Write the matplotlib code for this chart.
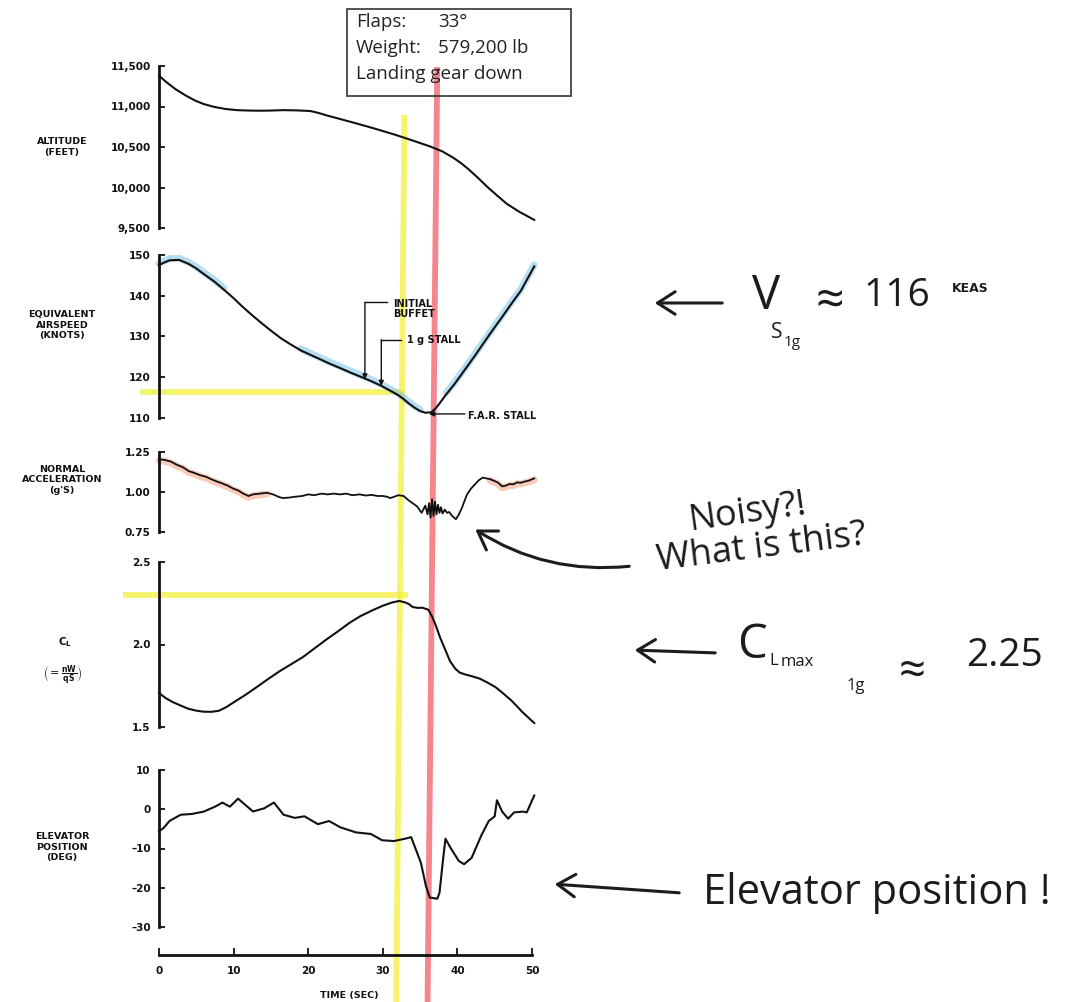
import matplotlib
matplotlib.use("Agg")
import matplotlib.pyplot as plt
from matplotlib.transforms import blended_transform_factory
from matplotlib.patches import FancyArrowPatch, Rectangle

plt.rcParams['font.family'] = ['DejaVu Sans']
plt.rcParams['mathtext.fontset'] = 'dejavusans'

# ---------------- data ----------------
alt_t = [0, 1, 2.2, 3.5, 4.8, 6, 7.4, 9, 10.5, 12, 13.6, 15, 16.7, 18.5, 20.3, 21.4,
         22.4, 24.5, 26.5, 29, 31.7, 34, 36.3, 38, 39.4, 40.5, 41.5, 42.8, 44.1, 45.4,
         46.6, 48.3, 50.3]
alt_v = [11380, 11300, 11215, 11140, 11075, 11030, 10995, 10968, 10955, 10950, 10948,
         10950, 10955, 10952, 10944, 10920, 10892, 10840, 10790, 10725, 10650, 10580,
         10508, 10445, 10370, 10300, 10225, 10115, 10000, 9895, 9800, 9700, 9600]

as_t = [0, 0.5, 1.4, 2.7, 4.0, 5.0, 6.1, 7.4, 8.7, 10, 11.2, 12.5, 13.8, 15.1, 16.4,
        17.7, 19.0, 20.3, 21.5, 22.8, 24.1, 25.6, 27.2, 28.5, 29.8, 30.9, 31.9, 32.7,
        33.4, 34.2, 35.0, 35.7, 36.5, 37.0, 37.5, 38.5, 39.6, 40.9, 42.2, 43.4, 44.7,
        46.0, 47.3, 48.5, 50.3]
as_v = [147.5, 148.0, 148.7, 148.8, 147.8, 146.7, 145.2, 143.5, 141.5, 139.4, 137.3,
        135.2, 133.2, 131.3, 129.5, 128.0, 126.6, 125.5, 124.5, 123.4, 122.4, 121.2,
        120.0, 119.0, 117.9, 116.8, 115.8, 114.8, 113.7, 112.6, 111.7, 111.3, 111.4,
        112.2, 113.3, 115.8, 118.3, 121.6, 124.9, 128.1, 131.5, 134.8, 138.2, 141.2,
        147.2]

acc_t = [0, 0.8, 1.6, 2.4, 3.2, 4.0, 4.7, 5.5, 6.3, 7.0, 7.8, 8.4, 9.2, 10.0, 10.6,
         11.3, 12.0, 12.6, 13.5, 14.5, 15.3, 16.0, 16.6, 17.4, 18.2, 19.2, 20.0, 20.8,
         21.8, 22.6, 23.4, 24.3, 25.1, 25.9, 26.9, 27.7, 28.5, 29.3, 30.0, 30.6, 31.0,
         31.5, 32.1, 32.8, 33.4, 34.0, 34.6, 35.2, 35.7, 36.0, 36.2, 36.4, 36.6, 36.8,
         37.0, 37.2, 37.4, 37.6, 37.8, 38.0, 38.3, 38.6, 38.9, 39.3, 39.8, 40.2, 40.6,
         41.0, 41.3, 41.8, 42.4, 42.9, 43.4, 43.9, 44.4, 44.9, 45.4, 46.0, 46.5, 47.0,
         47.5, 48.0, 48.5, 49.0, 49.5, 50.3]
acc_v = [1.205, 1.20, 1.19, 1.17, 1.155, 1.13, 1.12, 1.105, 1.095, 1.08, 1.065, 1.055,
         1.04, 1.02, 1.01, 0.99, 0.975, 0.985, 0.99, 0.995, 0.985, 0.97, 0.962, 0.965,
         0.97, 0.975, 0.985, 0.98, 0.99, 0.985, 0.99, 0.985, 0.99, 0.98, 0.985, 0.978,
         0.982, 0.975, 0.975, 0.97, 0.962, 0.97, 0.98, 0.975, 0.95, 0.93, 0.91, 0.87,
         0.915, 0.86, 0.93, 0.84, 0.955, 0.85, 0.94, 0.86, 0.92, 0.87, 0.905, 0.865,
         0.89, 0.87, 0.875, 0.85, 0.83, 0.86, 0.90, 0.95, 0.985, 1.02, 1.05, 1.075,
         1.09, 1.085, 1.08, 1.07, 1.06, 1.035, 1.04, 1.05, 1.048, 1.06, 1.058, 1.065,
         1.07, 1.085]

cl_t = [0, 0.9, 1.8, 2.9, 3.9, 4.9, 5.9, 7.0, 8.0, 9.0, 10.1, 11.6, 13.1, 14.6, 16.2,
        17.7, 19.3, 20.8, 22.4, 24.0, 25.5, 27.0, 28.6, 30.0, 31.2, 32.2, 33.0, 33.5,
        34.0, 34.7, 35.3, 36.1, 36.6, 37.1, 37.7, 38.4, 39.0, 39.7, 40.3, 41.0, 42.0,
        43.0, 44.0, 45.1, 46.1, 47.2, 48.0, 48.7, 50.3]
cl_v = [1.706, 1.675, 1.652, 1.630, 1.611, 1.600, 1.593, 1.592, 1.598, 1.620, 1.652,
        1.695, 1.742, 1.790, 1.839, 1.880, 1.924, 1.975, 2.029, 2.080, 2.130, 2.172,
        2.207, 2.235, 2.254, 2.264, 2.255, 2.245, 2.227, 2.222, 2.223, 2.211, 2.170,
        2.116, 2.040, 1.965, 1.900, 1.854, 1.830, 1.819, 1.807, 1.793, 1.770, 1.742,
        1.705, 1.662, 1.625, 1.591, 1.524]

el_t = [0, 0.6, 1.4, 2.9, 4.4, 6.0, 7.5, 8.5, 9.5, 10.6, 11.6, 12.6, 14.1, 15.4, 16.7,
        18.2, 19.5, 21.3, 22.8, 24.3, 26.4, 28.4, 29.9, 31.5, 33.0, 33.8, 35.1, 35.8,
        36.3, 37.3, 37.6, 38.1, 38.4, 39.1, 40.2, 40.9, 41.9, 43.2, 44.2, 45.0, 45.3,
        46.0, 46.8, 47.6, 48.8, 49.3, 50.3]
el_v = [-5.6, -4.8, -3.0, -1.4, -1.2, -0.6, 0.65, 1.7, 0.65, 2.7, 1.06, -0.57, 0.24,
        1.7, -1.4, -2.2, -1.8, -3.8, -3.0, -4.6, -5.9, -6.3, -7.9, -8.1, -7.5, -7.1,
        -13.6, -19.7, -22.5, -22.8, -21.3, -12.4, -7.5, -9.9, -13.2, -14.0, -12.4, -6.7,
        -3.0, -1.8, 2.3, -0.6, -2.4, -0.8, -0.6, -0.8, 3.5]

alt_ticks = [9500, 10000, 10500, 11000, 11500]
alt_labels = ['9,500', '10,000', '10,500', '11,000', '11,500']
as_ticks = [110, 120, 130, 140, 150]
acc_ticks = [0.75, 1.00, 1.25]
acc_labels = ['0.75', '1.00', '1.25']
cl_ticks = [1.5, 2.0, 2.5]
cl_labels = ['1.5', '2.0', '2.5']
el_ticks = [-30, -20, -10, 0, 10]
el_labels = ['\u201330', '\u201320', '\u201310', '0', '10']
time_ticks = [0, 10, 20, 30, 40, 50]

v_s1g = 116.3          # yellow reference line, airspeed
cl_max_line = 2.30     # yellow reference line, CL
initial_buffet_t, initial_buffet_v = 27.6, 119.5
one_g_stall_t, one_g_stall_v = 29.8, 117.9
far_stall_t, far_stall_v = 36.2, 111.0

# ---------------- layout ----------------
W, H = 1071, 1002
fig = plt.figure(figsize=(W / 100, H / 100), dpi=100)

X0, PXS = 159, 7.46   # pixel of t=0, pixels per second
TMAX = 51.0

def rect(top, bottom):
    l = X0
    r = X0 + TMAX * PXS
    return [l / W, 1 - bottom / H, (r - l) / W, (bottom - top) / H]

ax_under = fig.add_axes([0, 0, 1, 1], zorder=0)
ax_under.set_xlim(0, 1); ax_under.set_ylim(0, 1); ax_under.axis('off')

INK = '#111111'
LAB = dict(fontsize=6.8, fontweight='bold', color=INK, ha='center', va='center',
           linespacing=1.25)
TICKFONT = 7.5

def style(ax, ymin, ymax, ticks, labels):
    ax.set_xlim(0, TMAX)
    ax.set_ylim(ymin, ymax)
    ax.patch.set_visible(False)
    for s in ['top', 'right', 'bottom']:
        ax.spines[s].set_visible(False)
    ax.spines['left'].set_linewidth(2.0)
    ax.spines['left'].set_color(INK)
    ax.set_yticks(ticks)
    ax.set_yticklabels(labels, fontsize=TICKFONT, fontweight='bold', color=INK)
    ax.tick_params(axis='y', direction='in', length=4, width=1.3, pad=6, color=INK)
    ax.tick_params(axis='x', bottom=False, labelbottom=False)

ax_alt = fig.add_axes(rect(66, 228), zorder=1)
style(ax_alt, 9500, 11500, alt_ticks, alt_labels)
ax_as = fig.add_axes(rect(255, 418), zorder=1)
style(ax_as, 110, 150, as_ticks, [str(v) for v in as_ticks])
ax_acc = fig.add_axes(rect(452, 532), zorder=1)
style(ax_acc, 0.75, 1.25, acc_ticks, acc_labels)
ax_cl = fig.add_axes(rect(562, 727), zorder=1)
style(ax_cl, 1.5, 2.5, cl_ticks, cl_labels)
ax_el = fig.add_axes(rect(770, 927), zorder=1)
style(ax_el, -30, 10, el_ticks, el_labels)

ax_el.spines['bottom'].set_visible(True)
ax_el.spines['bottom'].set_position(('outward', 20))
ax_el.spines['bottom'].set_bounds(0, 50)
ax_el.spines['bottom'].set_linewidth(2.0)
ax_el.spines['bottom'].set_color(INK)
ax_el.set_xticks(time_ticks)
ax_el.set_xticklabels([str(t) for t in time_ticks], fontsize=TICKFONT, fontweight='bold', color=INK)
ax_el.tick_params(axis='x', bottom=True, labelbottom=True, direction='in', length=5,
                  width=1.3, pad=8, color=INK)
ax_el.set_xlabel('TIME (SEC)', fontsize=6.8, fontweight='bold', color=INK, labelpad=11)

# ---------------- highlighter marks on the curves ----------------
BLUE = '#6fbfe8'
ORANGE = '#f5a98a'
def seg(t, v, a, b):
    pts = [(x, y) for x, y in zip(t, v) if a <= x <= b]
    return [p[0] for p in pts], [p[1] for p in pts]

for a, b in [(0, 9), (19, 35.2), (38.4, 50.3)]:
    xs, ys = seg(as_t, as_v, a, b)
    ax_as.plot(xs, [y + 0.4 for y in ys], color=BLUE, lw=5, alpha=0.5,
               solid_capstyle='round', clip_on=False, zorder=1)
for a, b in [(0, 14.5), (44.4, 50.3)]:
    xs, ys = seg(acc_t, acc_v, a, b)
    ax_acc.plot(xs, [y - 0.008 for y in ys], color=ORANGE, lw=5, alpha=0.6,
                solid_capstyle='round', clip_on=False, zorder=1)

# ---------------- curves ----------------
LW = 1.5
ax_alt.plot(alt_t, alt_v, color=INK, lw=LW, clip_on=False, zorder=3)
ax_as.plot(as_t, as_v, color=INK, lw=LW, clip_on=False, zorder=3)
ax_acc.plot(acc_t, acc_v, color=INK, lw=1.3, clip_on=False, zorder=3)
ax_cl.plot(cl_t, cl_v, color=INK, lw=LW, clip_on=False, zorder=3)
ax_el.plot(el_t, el_v, color=INK, lw=LW, clip_on=False, zorder=3)

# ---------------- yellow / red highlighter lines ----------------
YEL = '#f4f03c'
RED = '#f04454'
blend = blended_transform_factory(ax_el.transData, fig.transFigure)
ax_under.plot([32.9, 31.8], [1 - 115 / H, 0.0], color=YEL, lw=4.2, alpha=0.75,
              transform=blend, solid_capstyle='butt')
ax_under.plot([37.3, 36.0], [1 - 67 / H, 0.0], color=RED, lw=4.2, alpha=0.65,
              transform=blend, solid_capstyle='butt')
ax_as.plot([-2.2, 32.5], [v_s1g, v_s1g], color=YEL, lw=4.2, alpha=0.75,
           clip_on=False, zorder=0)
ax_cl.plot([-4.4, 33.0], [cl_max_line, cl_max_line], color=YEL, lw=4.2, alpha=0.75,
           clip_on=False, zorder=0)

# ---------------- airspeed annotations ----------------
AF = dict(fontsize=7, fontweight='bold', color=INK)
arr = dict(arrowstyle='-|>', lw=1.0, color=INK, mutation_scale=7, shrinkA=0, shrinkB=0)
ax_as.annotate('', xy=(initial_buffet_t, initial_buffet_v), xytext=(initial_buffet_t, 138.4),
               arrowprops=arr)
ax_as.plot([initial_buffet_t, 30.6], [138.4, 138.4], color=INK, lw=1.0)
ax_as.text(31.4, 136.8, 'INITIAL\nBUFFET', va='center', ha='left', linespacing=1.0, **AF)
ax_as.annotate('', xy=(one_g_stall_t, one_g_stall_v), xytext=(one_g_stall_t, 129.2),
               arrowprops=arr)
ax_as.plot([one_g_stall_t, 32.4], [129.2, 129.2], color=INK, lw=1.0)
ax_as.text(33.2, 129.2, '1 g STALL', va='center', ha='left', **AF)
ax_as.annotate('', xy=(far_stall_t, far_stall_v), xytext=(41.0, far_stall_v),
               arrowprops=arr)
ax_as.text(41.4, 110.6, 'F.A.R. STALL', va='center', ha='left', **AF)

# ---------------- left labels ----------------
LX = 62 / W
fig.text(LX, 1 - 147 / H, 'ALTITUDE\n(FEET)', **LAB)
fig.text(LX, 1 - 325 / H, 'EQUIVALENT\nAIRSPEED\n(KNOTS)', **LAB)
fig.text(LX, 1 - 480 / H, "NORMAL\nACCELERATION\n(g'S)", **LAB)
fig.text(65 / W, 1 - 642 / H, r'$\mathbf{C_L}$', fontsize=7.5, color=INK, ha='center', va='center')
fig.text(63 / W, 1 - 676 / H, r'$\left(=\frac{\mathbf{nW}}{\mathbf{qS}}\right)$', fontsize=8,
         color=INK, ha='center', va='center')
fig.text(LX, 1 - 847 / H, 'ELEVATOR\nPOSITION\n(DEG)', **LAB)

# ---------------- overlay: box and hand-written notes ----------------
top = fig.add_axes([0, 0, 1, 1], zorder=5)
top.set_xlim(0, W); top.set_ylim(H, 0); top.axis('off')

top.add_patch(Rectangle((347, 9), 224, 87, fill=False, lw=1.2, edgecolor='#333333'))
BF = dict(fontsize=13.5, color='#222222', family=['Open Sans', 'DejaVu Sans'], va='center', ha='left')
top.text(356, 22, 'Flaps:', **BF)
top.text(438, 22, '33\u00b0', **BF)
top.text(356, 48, 'Weight:', **BF)
top.text(438, 48, '579,200 lb', **BF)
top.text(356, 74, 'Landing gear down', **BF)

HW = dict(color='#1c1c1c', family=['Open Sans', 'DejaVu Sans'], fontweight='normal')
def harrow(p0, p1, **kw):
    a = FancyArrowPatch(p0, p1, arrowstyle='->,head_length=0.7,head_width=0.45',
                        mutation_scale=18, lw=2.2, color='#1c1c1c', **kw)
    top.add_patch(a)

# V_S1g
harrow((725, 303), (652, 303))
top.text(766, 296, 'V', fontsize=34, ha='center', va='center', **HW)
top.text(777, 333, 'S', fontsize=15, ha='center', va='center', **HW)
top.text(792, 343, '1g', fontsize=11, ha='center', va='center', **HW)
top.text(830, 304, '\u2248', fontsize=36, ha='center', va='center', **HW)
top.text(897, 296, '116', fontsize=28, ha='center', va='center', **HW)
top.text(970, 289, 'KEAS', fontsize=9, ha='center', va='center', color='#1c1c1c',
         fontweight='bold')

# Noisy
top.text(748, 513, 'Noisy?!', fontsize=26, rotation=8, ha='center', va='center', **HW)
top.text(762, 548, 'What is this?', fontsize=26, rotation=7, ha='center', va='center', **HW)
harrow((632, 566), (473, 528), connectionstyle='arc3,rad=-0.18')

# CL max
harrow((718, 653), (632, 650))
top.text(752, 645, 'C', fontsize=34, ha='center', va='center', **HW)
top.text(774, 661, 'L', fontsize=12, ha='center', va='center', **HW)
top.text(797, 662, 'max', fontsize=12, ha='center', va='center', **HW)
top.text(856, 686, '1g', fontsize=12, ha='center', va='center', **HW)
top.text(912, 672, '\u2248', fontsize=34, ha='center', va='center', **HW)
top.text(1004, 656, '2.25', fontsize=28, ha='center', va='center', **HW)

# Elevator
harrow((682, 893), (552, 884))
top.text(703, 893, 'Elevator position !', fontsize=30, ha='left', va='center', **HW)

fig.savefig('out.png', dpi=100)
